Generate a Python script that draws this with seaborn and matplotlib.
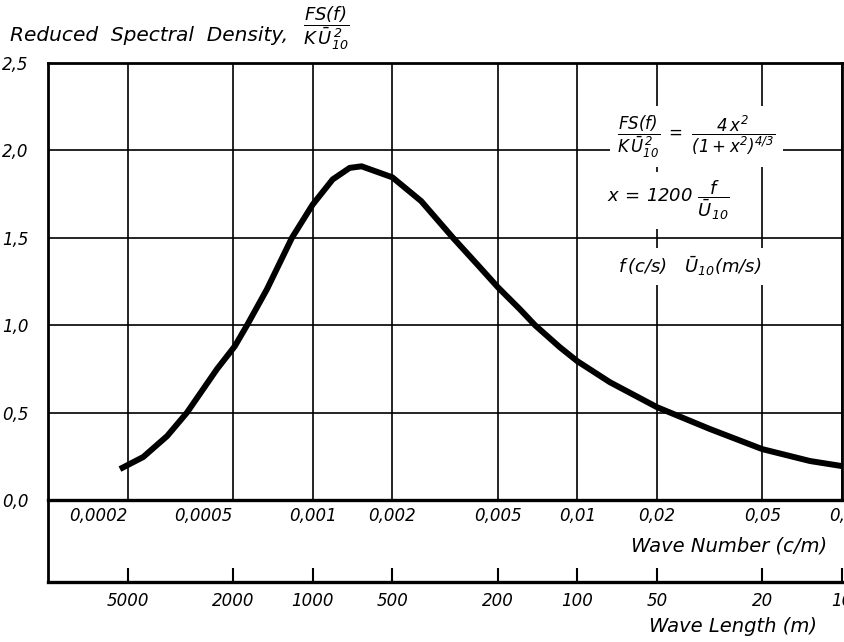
import numpy as np
import pandas as pd
import matplotlib
matplotlib.use("Agg")
import matplotlib.pyplot as plt
import seaborn as sns
from matplotlib.ticker import NullLocator

# Values (wave number in c/m, reduced spectral density)
wave_number = [0.000187, 0.000229, 0.000282, 0.000335, 0.000435, 0.000508, 0.000565,
               0.000672, 0.000835, 0.001, 0.00119, 0.00138, 0.00153, 0.002, 0.00257,
               0.00339, 0.00418, 0.00501, 0.00607, 0.00692, 0.00859, 0.01, 0.01327,
               0.02, 0.0317, 0.05, 0.0757, 0.1]
reduced_density = [0.177, 0.246, 0.366, 0.50, 0.749, 0.88, 1.0,
                   1.206, 1.50, 1.69, 1.834, 1.90, 1.909, 1.846, 1.71,
                   1.50, 1.349, 1.217, 1.091, 1.0, 0.874, 0.794, 0.674,
                   0.531, 0.406, 0.291, 0.223, 0.194]

wn_ticks = [0.0002, 0.0005, 0.001, 0.002, 0.005, 0.01, 0.02, 0.05, 0.1]
wn_labels = ["0,0002", "0,0005", "0,001", "0,002", "0,005", "0,01", "0,02", "0,05", "0,1"]
wl_ticks = [5000, 2000, 1000, 500, 200, 100, 50, 20, 10]
wl_labels = ["5000", "2000", "1000", "500", "200", "100", "50", "20", "10"]
y_ticks = [0.0, 0.5, 1.0, 1.5, 2.0, 2.5]
y_labels = ["0,0", "0,5", "1,0", "1,5", "2,0", "2,5"]

df = pd.DataFrame({"wave_number": wave_number, "density": reduced_density})

sns.set_style("white")
plt.rcParams["font.family"] = ["DejaVu Sans"]
plt.rcParams["font.style"] = "italic"
plt.rcParams["text.color"] = "black"
plt.rcParams["xtick.color"] = "black"
plt.rcParams["ytick.color"] = "black"
plt.rcParams["mathtext.fontset"] = "custom"
plt.rcParams["mathtext.rm"] = "DejaVu Sans:italic"
plt.rcParams["mathtext.it"] = "DejaVu Sans:italic"

fig = plt.figure(figsize=(8.45, 6.42), dpi=100)
ax = fig.add_axes([48 / 845, 142 / 642, 794 / 845, 437 / 642])
ax.set_xscale("log")

sns.lineplot(data=df, x="wave_number", y="density", color="black",
             linewidth=4.3, ax=ax, zorder=4, solid_joinstyle="round",
             solid_capstyle="butt")

ax.set_xlim(1e-4, 0.1)
ax.set_ylim(0, 2.5)
ax.set_xlabel("")
ax.set_ylabel("")

# grid and frame
ax.set_xticks(wn_ticks, labels=wn_labels)
ax.xaxis.set_minor_locator(NullLocator())
ax.set_yticks(y_ticks, labels=y_labels)
ax.grid(True, color="black", linewidth=1.2)
ax.tick_params(axis="x", length=0, pad=5, labelsize=12)
ax.tick_params(axis="y", length=0, pad=14, labelsize=12)
for lab in ax.get_xticklabels():
    if len(lab.get_text()) >= 6:
        lab.set_ha("right")
for side in ["top", "right", "left", "bottom"]:
    ax.spines[side].set_color("black")
    ax.spines[side].set_linewidth(2)
ax.spines["bottom"].set_linewidth(2.4)

# second scale: wave length
loc2 = -(582 - 500) / 437
ax.spines["left"].set_bounds(loc2 * 2.5, 2.5)


def one_over(x):
    x = np.array(x, float)
    near_zero = np.isclose(x, 0)
    x[near_zero] = np.inf
    x[~near_zero] = 1 / x[~near_zero]
    return x


secax = ax.secondary_xaxis(loc2, functions=(one_over, one_over))
secax.set_xticks(wl_ticks, labels=wl_labels)
secax.xaxis.set_minor_locator(NullLocator())
secax.tick_params(direction="in", length=10, width=1.5, pad=7, labelsize=12, color="black")
secax.spines["bottom"].set_linewidth(2.4)
secax.spines["bottom"].set_color("black")

fig.text(827 / 845, 1 - 546 / 642, "Wave Number (c/m)", ha="right", va="center", fontsize=14)
fig.text(817 / 845, 1 - 626 / 642, "Wave Length (m)", ha="right", va="center", fontsize=14)

# axis title on top
fig.text(10 / 845, 1 - 41 / 642, "Reduced  Spectral  Density,", ha="left", va="baseline", fontsize=14.5)
fig.text(303 / 845, 1 - 28 / 642, r"$\dfrac{FS(f)}{K\,\bar{U}_{10}^{\,2}}$",
         ha="left", va="center", fontsize=13)

# formula annotations
box = dict(facecolor="white", edgecolor="none", pad=5)
ax.text(0.817, 0.831, r"$\dfrac{FS(f)}{K\,\bar{U}_{10}^{\,2}}\ =\ \dfrac{4\,x^2}{(1+x^2)^{4/3}}$",
        transform=ax.transAxes, ha="center", va="center", fontsize=12, bbox=box, zorder=5)
ax.text(0.781, 0.686, r"$x\,=\,1200\ \dfrac{f}{\bar{U}_{10}}$",
        transform=ax.transAxes, ha="center", va="center", fontsize=13, bbox=box, zorder=5)
ax.text(0.808, 0.535, r"$f\,(c/s)\quad \bar{U}_{10}(m/s)$",
        transform=ax.transAxes, ha="center", va="center", fontsize=13, bbox=box, zorder=5)

fig.savefig("out.png", dpi=100)
